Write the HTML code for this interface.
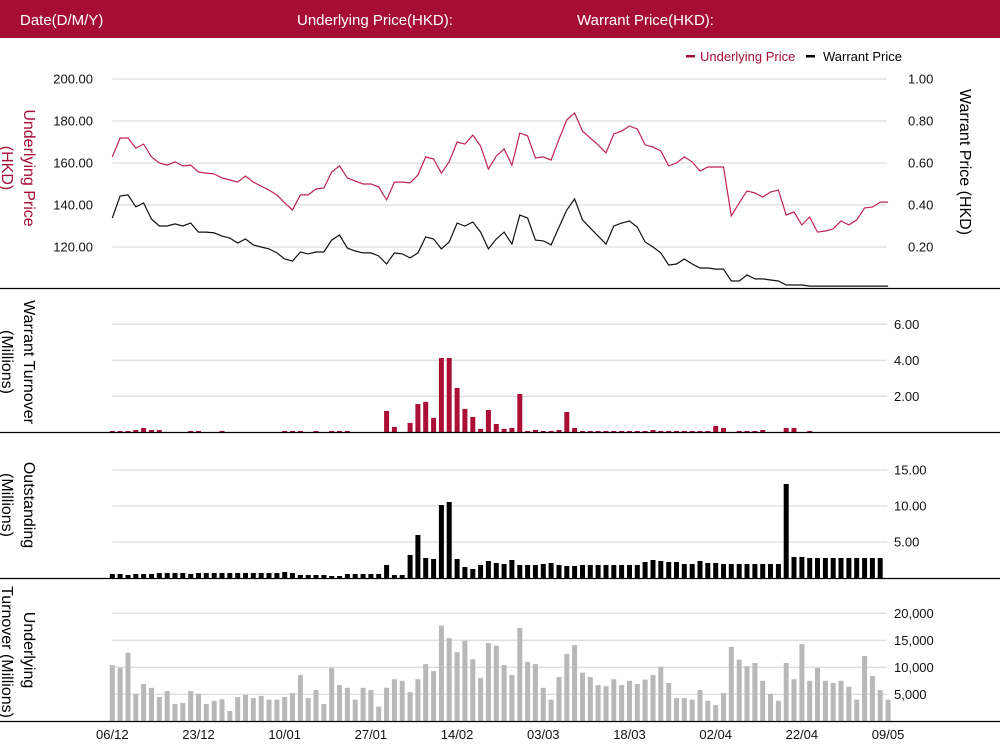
<!DOCTYPE html>
<html><head><meta charset="utf-8"><style>
html,body{margin:0;padding:0;background:#fff;width:1000px;height:751px;overflow:hidden}
svg{display:block;font-family:"Liberation Sans",sans-serif}
</style></head><body>
<svg id="chart" width="1000" height="751" viewBox="0 0 1000 751" xmlns="http://www.w3.org/2000/svg">
<rect x="0" y="0" width="1000" height="38" fill="#a50d34"/>
<text x="20" y="25" fill="#fff" font-size="15">Date(D/M/Y)</text>
<text x="297" y="25" fill="#fff" font-size="15">Underlying Price(HKD):</text>
<text x="577" y="25" fill="#fff" font-size="15">Warrant Price(HKD):</text>
<g>
<rect x="686" y="55" width="9" height="2.5" fill="#a50d34"/>
<text x="700" y="61" fill="#a50d34" font-size="13">Underlying Price</text>
<rect x="806" y="55" width="9" height="2.5" fill="#000"/>
<text x="823" y="61" fill="#000" font-size="13">Warrant  Price</text>
</g>
<g fill="#a50d34" font-size="16" text-anchor="middle">
<text transform="translate(24,168) rotate(90)">Underlying Price</text>
<text transform="translate(2,168) rotate(90)">(HKD)</text>
</g>
<text font-size="16" text-anchor="middle" transform="translate(960,162) rotate(90)">Warrant  Price (HKD)</text>
<g font-size="16" text-anchor="middle">
<text transform="translate(24,362) rotate(90)">Warrant  Turnover</text>
<text transform="translate(2,362) rotate(90)">(Millions)</text>
</g>
<g font-size="16" text-anchor="middle">
<text transform="translate(24,505) rotate(90)">Outstanding</text>
<text transform="translate(2,505) rotate(90)">(Millions)</text>
</g>
<g font-size="16" text-anchor="middle">
<text transform="translate(24,650) rotate(90)">Underlying</text>
<text transform="translate(2,652) rotate(90)">Turnover (Millions)</text>
</g>
<g id="grid"></g>
<g id="marks"></g>
<g id="axes"></g>
</svg>
<script>
const dateLabels = ["06/12","23/12","10/01","27/01","14/02","03/03","18/03","02/04","22/04","09/05"];
const underlyingPrice = [162.9,171.9,171.9,167.1,169.0,162.9,160,159.0,160.5,158.6,159.0,155.7,155.2,154.8,152.9,151.9,150.9,153.8,150.9,149.0,147.1,144.8,141,137.6,144.8,144.8,147.6,148.1,155.7,158.6,152.9,151.4,150,150,148.6,142.4,150.9,150.9,150.5,154.3,162.9,161.9,155.2,160.5,170,169,173.3,168.1,157.1,163.3,166.7,159.0,174.3,172.9,162.4,162.9,161.4,171.4,180.5,183.8,175.2,171.9,168.6,164.8,173.8,175.2,177.6,176.2,168.6,167.6,165.7,158.6,160,162.9,160.5,156.2,158.1,158.1,158.1,134.8,141,146.7,145.7,143.8,146.2,147.1,135.2,136.7,130.5,134.3,127.1,127.6,128.6,132.4,130.5,132.9,138.6,139.0,141.4,141.4];
const warrantPrice = [0.338,0.443,0.448,0.391,0.410,0.333,0.300,0.300,0.310,0.300,0.314,0.271,0.271,0.267,0.252,0.243,0.219,0.238,0.210,0.200,0.191,0.172,0.143,0.133,0.176,0.167,0.176,0.176,0.233,0.257,0.195,0.181,0.172,0.172,0.157,0.119,0.172,0.167,0.148,0.172,0.248,0.238,0.191,0.224,0.314,0.300,0.319,0.271,0.191,0.238,0.271,0.214,0.352,0.338,0.233,0.229,0.210,0.295,0.376,0.429,0.329,0.290,0.252,0.214,0.300,0.314,0.324,0.295,0.224,0.200,0.172,0.114,0.119,0.143,0.119,0.100,0.100,0.095,0.095,0.038,0.038,0.067,0.048,0.048,0.043,0.038,0.019,0.019,0.019,0.014,0.014,0.014,0.014,0.014,0.014,0.014,0.014,0.014,0.014,0.014];
const warrantTurnover = [0.07,0.07,0.07,0.13,0.24,0.13,0.13,0,0,0,0.07,0.07,0,0,0.07,0,0,0,0,0,0,0,0.07,0.07,0.07,0,0.07,0,0.07,0.07,0.07,0,0,0,0,1.19,0.30,0,0.52,1.57,1.69,0.80,4.13,4.13,2.46,1.30,0.85,0.19,1.24,0.46,0.19,0.24,2.13,0.07,0.13,0.07,0.07,0.13,1.13,0.24,0.07,0.07,0.07,0.07,0.07,0.07,0.07,0.07,0.07,0.13,0.07,0.07,0.07,0.07,0.07,0.07,0.07,0.35,0.24,0,0.07,0.07,0.07,0.13,0,0,0.24,0.24,0,0.07,0,0,0,0,0,0,0,0,0,0];
const outstanding = [0.56,0.56,0.42,0.56,0.56,0.56,0.69,0.69,0.69,0.69,0.56,0.69,0.69,0.69,0.69,0.69,0.69,0.69,0.69,0.69,0.69,0.69,0.83,0.69,0.42,0.42,0.42,0.42,0.28,0.28,0.56,0.56,0.56,0.56,0.56,1.81,0.42,0.42,3.19,5.97,2.78,2.64,10.14,10.56,2.64,1.53,1.25,1.81,2.36,2.08,1.94,2.5,1.81,1.81,1.81,1.94,2.08,1.81,1.67,1.67,1.81,1.81,1.81,1.81,1.81,1.81,1.81,1.81,2.22,2.5,2.36,2.22,2.22,1.94,1.94,2.36,2.08,2.08,1.94,1.94,1.94,1.94,1.94,1.94,1.94,1.94,13.06,2.92,2.92,2.78,2.78,2.78,2.78,2.78,2.78,2.78,2.78,2.78,2.78,0];
const underlyingTurnover = [10.4,9.9,12.7,5.1,6.9,6.2,4.5,5.6,3.2,3.4,5.6,5.1,3.2,3.8,4.1,1.9,4.5,4.9,4.3,4.7,4.0,4.0,4.5,5.2,8.6,4.3,5.8,3.2,9.9,6.7,6.2,4.0,6.2,5.8,2.7,6.2,7.8,7.5,5.4,7.8,10.6,9.3,17.7,15.4,12.8,14.9,11.5,8.0,14.5,14.0,10.4,8.6,17.3,11.0,10.6,6.2,4.0,8.2,12.5,14.1,9.0,8.2,6.7,6.5,7.8,6.7,7.5,6.9,7.7,8.6,10.1,7.1,4.3,4.3,4.0,5.8,3.8,3.0,5.2,13.8,11.4,10.2,10.8,7.5,5.1,3.8,10.8,7.8,14.3,7.5,9.9,7.5,7.1,7.5,6.4,4.0,12.1,8.4,5.8,4.0];
const priceTicks = [120,140,160,180,200];
const warrantTicks = [0.2,0.4,0.6,0.8,1.0];
const turnoverTicks = [2,4,6];
const outstandingTicks = [5,10,15];
const undTurnTicks = [5000,10000,15000,20000];

const NS = "http://www.w3.org/2000/svg";
const X0 = 112.3, STEP = 7.836, GX1 = 887;
const xAt = i => X0 + STEP * i;
const yPrice = v => 289 - (v - 100) * 42 / 20;
const yWarrant = v => 289 - v * 42 / 0.2;
const yTurn = v => 432.3 - v * 18;
const yOut = v => 578 - v * 36 / 5;
const yUT = v => 721.3 - v * 27 / 5;   // values in thousands
const grid = document.getElementById('grid'), marks = document.getElementById('marks'), axes = document.getElementById('axes');
function mk(tag, attrs, parent){const e=document.createElementNS(NS,tag);for(const k in attrs)e.setAttribute(k,attrs[k]);parent.appendChild(e);return e;}

function gridLine(y, parent){
  const l = mk('line',{x1:X0,x2:GX1,y1:y,y2:y,stroke:'#dedede','stroke-width':1.3},parent);
  
  
}
function tickLabel(x, y, txt, anchor, parent){
  const t = mk('text',{x:x,y:y+4.5,'font-size':13,'text-anchor':anchor,fill:'#111'},parent);
  t.textContent = txt;
  
  
}
priceTicks.forEach(v=>{gridLine(yPrice(v),grid);tickLabel(93,yPrice(v),v.toFixed(2),'end',axes);});
warrantTicks.forEach(v=>{tickLabel(908,yWarrant(v),v.toFixed(2),'start',axes);});
turnoverTicks.forEach(v=>{gridLine(yTurn(v),grid);tickLabel(894,yTurn(v),v.toFixed(2),'start',axes);});
outstandingTicks.forEach(v=>{gridLine(yOut(v),grid);tickLabel(894,yOut(v),v.toFixed(2),'start',axes);});
undTurnTicks.forEach(v=>{gridLine(yUT(v/1000),grid);tickLabel(894,yUT(v/1000),v.toLocaleString('en-US'),'start',axes);});

function lineSeries(arr, yf, color, name){
  const p = mk('polyline',{points:arr.map((v,i)=>xAt(i).toFixed(1)+','+yf(v).toFixed(1)).join(' '),fill:'none',stroke:color,'stroke-width':1.2},marks);
  
  
}
lineSeries(underlyingPrice, yPrice, '#c0234f', 'underlying-price-line');
lineSeries(warrantPrice, yWarrant, '#111', 'warrant-price-line');

function bars(arr, yf, base, color, name){
  arr.forEach((v,i)=>{
    if(!v) return;
    const y = yf(v);
    const r = mk('rect',{x:(xAt(i)-2.5).toFixed(1),y:y.toFixed(1),width:5,height:(base-y).toFixed(1),fill:color},marks);
    
    
  });
}
bars(warrantTurnover, yTurn, 432.3, '#ab0f35', 'warrant-turnover-bar');
bars(outstanding, yOut, 578, '#000', 'outstanding-bar');
bars(underlyingTurnover, yUT, 721.3, '#b8b8b8', 'underlying-turnover-bar');

[288.5,432.5,578.5,721.5].forEach(y=>{
  const l = mk('line',{x1:0,x2:1000,y1:y,y2:y,stroke:'#000','stroke-width':1.3},axes);
  
  
});
dateLabels.forEach((d,k)=>{
  const t = mk('text',{x:xAt(k*11),y:739,'font-size':13,'text-anchor':'middle',fill:'#111'},axes);
  t.textContent = d;
  
  
});
</script>
</body></html>
